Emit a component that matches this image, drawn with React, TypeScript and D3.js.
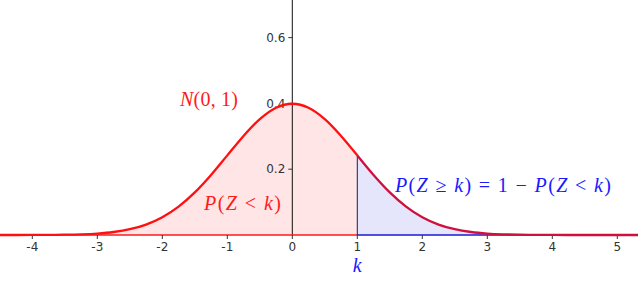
import React from "react";
import * as d3 from "d3";

const W = 638;
const H = 285;

// Curve samples (x, density)
const xs = [-4.5, -4, -3.75, -3.5, -3.25, -3, -2.75, -2.5, -2.25, -2, -1.75, -1.5, -1.25, -1, -0.75, -0.5, -0.25, 0, 0.25, 0.5, 0.75, 1, 1.25, 1.5, 1.75, 2, 2.25, 2.5, 2.75, 3, 3.25, 3.5, 3.75, 4, 4.5, 5.32];
const ys = [0.0, 0.0001, 0.0004, 0.0009, 0.002, 0.0044, 0.0091, 0.0175, 0.0317, 0.054, 0.0863, 0.1295, 0.1826, 0.242, 0.3011, 0.3521, 0.3867, 0.3989, 0.3867, 0.3521, 0.3011, 0.242, 0.1826, 0.1295, 0.0863, 0.054, 0.0317, 0.0175, 0.0091, 0.0044, 0.002, 0.0009, 0.0004, 0.0001, 0.0, 0.0];

const xTicks = [-4, -3, -2, -1, 0, 1, 2, 3, 4, 5];
const yTicks = [0.2, 0.4, 0.6];
const kValue = 1;

export default function App() {
  const x = d3.scaleLinear().domain([0, 1]).range([292.3, 357.3]);
  const y = d3.scaleLinear().domain([0, 0.2]).range([235, 169.2]);
  const pts = xs.map((v, i) => ({ x: v, y: ys[i] }));
  const left = pts.filter((p) => p.x <= kValue);
  const right = pts.filter((p) => p.x >= kValue);
  const curve = d3.curveMonotoneX;
  const area = d3.area<{ x: number; y: number }>().x((d) => x(d.x)).y0(y(0)).y1((d) => y(d.y)).curve(curve);
  const line = d3.line<{ x: number; y: number }>().x((d) => x(d.x)).y((d) => y(d.y)).curve(curve);
  const x0 = x(xs[0]);
  const x1 = x(xs[xs.length - 1]);
  const xk = x(kValue);
  const fkIdx = xs.indexOf(kValue);
  const fk = ys[fkIdx];
  const axisFont = "'DejaVu Sans', sans-serif";
  const mathFont = "'Liberation Serif', 'DejaVu Serif', serif";

  return (
    <svg width={W} height={H} style={{ position: "absolute", left: 0, top: 0, background: "#fff" }}>
      <path d={area(left) || ""} fill="#ffe5e5" />
      <path d={area(right) || ""} fill="#e5e5fc" />
      {/* y axis */}
      <line x1={x(0)} x2={x(0)} y1={0} y2={y(0)} stroke="#111" strokeWidth={1} />
      {yTicks.map((t) => (
        <g key={t}>
          <line x1={x(0) - 4} x2={x(0)} y1={y(t)} y2={y(t)} stroke="#333" />
          <text x={x(0) - 7} y={y(t)} dy="0.35em" textAnchor="end" fontSize={12} fill="#333" fontFamily={axisFont}>
            {t.toFixed(1)}
          </text>
        </g>
      ))}
      {/* x axis */}
      <line x1={x0} x2={xk} y1={y(0)} y2={y(0)} stroke="#ff1a1a" strokeWidth={1.3} />
      <line x1={xk} x2={x1} y1={y(0)} y2={y(0)} stroke="#1a1ad0" strokeWidth={1.3} />
      {xTicks.map((t) => (
        <g key={t}>
          <line x1={x(t)} x2={x(t)} y1={y(0)} y2={y(0) + 4} stroke="#333" />
          <text x={x(t)} y={247} dy="0.35em" textAnchor="middle" fontSize={12} fill="#333" fontFamily={axisFont}>
            {t < 0 ? "-" + Math.abs(t) : String(t)}
          </text>
        </g>
      ))}
      {/* k vertical line */}
      <line x1={xk} x2={xk} y1={y(0)} y2={y(fk)} stroke="#1a1a70" strokeWidth={1} />
      {/* curve */}
      <path d={line(left) || ""} fill="none" stroke="#ff1010" strokeWidth={2.3} />
      <path d={line(right) || ""} fill="none" stroke="#d0103c" strokeWidth={2.3} />
      {/* labels */}
      <text x={180} y={106} fontSize={20} fill="#ff1a1a" fontFamily={mathFont} textLength={58} lengthAdjust="spacing">
        <tspan fontStyle="italic">N</tspan>(0, 1)
      </text>
      <text x={204} y={210} fontSize={20} fill="#ff1a1a" fontFamily={mathFont} textLength={77} lengthAdjust="spacing">
        <tspan fontStyle="italic">P</tspan>(<tspan fontStyle="italic">Z</tspan> &lt; <tspan fontStyle="italic">k</tspan>)
      </text>
      <text x={395} y={192} fontSize={20} fill="#1a1aff" fontFamily={mathFont} textLength={216} lengthAdjust="spacing">
        <tspan fontStyle="italic">P</tspan>(<tspan fontStyle="italic">Z</tspan> ≥ <tspan fontStyle="italic">k</tspan>) = 1 − <tspan fontStyle="italic">P</tspan>(<tspan fontStyle="italic">Z</tspan> &lt; <tspan fontStyle="italic">k</tspan>)
      </text>
      <text x={xk} y={272} textAnchor="middle" fontSize={20} fill="#1a1aff" fontFamily={mathFont} fontStyle="italic">
        k
      </text>
    </svg>
  );
}
